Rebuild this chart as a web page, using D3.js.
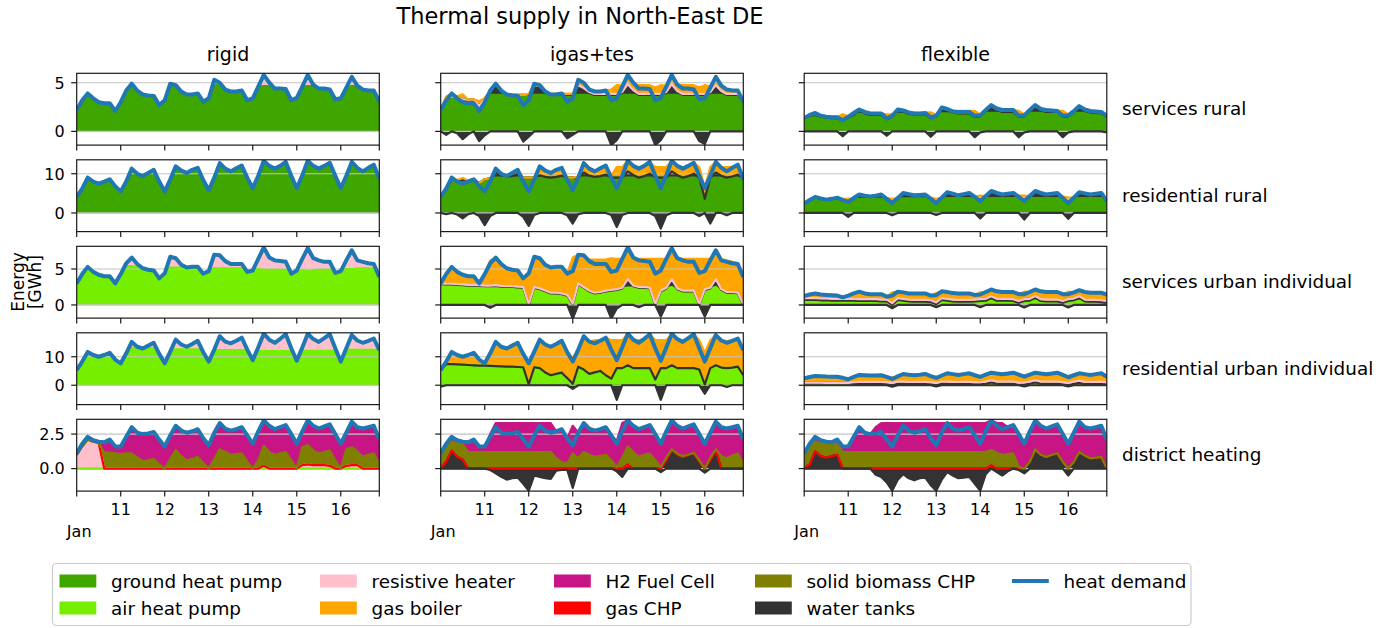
<!DOCTYPE html>
<html>
<head>
<meta charset="utf-8">
<script src="https://cdn.jsdelivr.net/npm/d3@7"></script>
<style>
  body { margin: 0; background: #fff; }
  svg { display: block; font-family: "DejaVu Sans", sans-serif; }
</style>
</head>
<body>
<svg id="chart" width="1391" height="628"></svg>
<script>
// ---------------------------------------------------------------------------
// Thermal supply, 3-hourly, 10 Jan 00:00 .. 16 Jan 21:00 (56 steps), GWh
// ---------------------------------------------------------------------------
const scenarios = ["rigid", "igas+tes", "flexible"];
const sectors = ["services rural", "residential rural", "services urban individual",
                 "residential urban individual", "district heating"];
const dayTicks = [10, 11, 12, 13, 14, 15, 16];

// ---- heat demand ----
const srDemand = [
  2.2,3.2,3.9,3.4,3.0,2.9,2.9,2.1, 3.0,4.2,4.9,4.2,3.8,3.7,3.65,2.7,
  3.2,4.9,4.75,4.1,3.8,3.8,3.9,3.05, 3.4,5.3,5.0,4.3,4.1,4.1,4.2,3.2,
  3.4,4.6,5.8,5.0,4.4,4.4,4.35,3.2, 3.45,4.6,5.8,4.8,4.4,4.4,4.3,3.3,
  3.4,4.5,5.6,4.7,4.3,4.2,4.2,3.05];
const rrDemand = [
  4.1,6.2,9.0,8.0,7.5,8.0,8.6,6.8, 5.5,8.0,11.3,10.0,9.4,10.2,11.0,8.0,
  5.5,8.5,11.9,10.8,10.2,11.0,11.5,8.4, 5.8,9.0,12.7,11.3,10.6,11.4,12.1,9.0,
  6.3,9.5,13.3,12.0,11.3,12.0,13.0,9.5, 6.3,9.6,13.3,12.0,11.3,12.0,12.8,9.5,
  6.3,9.5,13.0,11.5,10.6,11.5,12.3,8.7];
const suDemand = [
  3.0,4.3,5.3,4.6,4.2,4.0,4.0,3.0, 4.3,5.8,6.6,5.7,5.1,4.9,4.8,3.7,
  4.4,6.7,6.5,5.6,5.2,5.3,5.3,4.35, 4.7,7.0,6.9,6.1,5.7,5.7,5.7,4.6,
  4.8,6.4,8.0,6.6,6.2,6.1,6.0,4.35, 4.8,6.4,7.9,6.5,6.2,6.0,6.0,4.45,
  4.7,6.2,7.6,6.2,6.0,5.8,5.7,3.9];
const ruDemand = [
  5.3,8.3,11.7,10.6,10.0,10.6,11.4,9.0, 7.7,11.2,15.2,13.5,12.9,13.9,14.9,11.0,
  7.7,11.8,16.0,14.3,13.5,14.5,15.6,11.6, 8.3,12.5,17.2,15.3,14.7,15.6,16.7,12.5,
  8.8,13.3,18.1,16.0,14.9,16.3,17.9,13.0, 8.6,13.2,18.1,16.2,15.2,16.5,17.9,13.0,
  8.3,13.0,17.6,15.7,14.9,15.6,16.4,12.3];
const dhDemand = [
  1.1,1.8,2.3,2.05,1.95,1.9,2.1,1.6, 1.6,2.3,3.0,2.6,2.5,2.55,2.65,2.1,
  1.6,2.4,3.1,2.75,2.6,2.7,2.85,2.2, 1.7,2.6,3.3,2.9,2.75,2.85,3.0,2.4,
  1.8,2.7,3.5,3.1,2.85,3.0,3.15,2.5, 1.8,2.7,3.5,3.1,2.9,3.05,3.2,2.5,
  1.8,2.6,3.4,3.0,2.9,3.0,3.1,2.1];
const srFlexDemand = [
  1.35,1.7,1.9,1.6,1.5,1.45,1.45,1.15, 1.5,1.9,2.25,2.0,1.85,1.85,1.85,1.35,
  1.6,2.25,2.15,1.95,1.85,1.85,1.9,1.45, 1.6,2.45,2.3,2.05,2.0,2.0,2.0,1.6,
  1.65,2.2,2.7,2.35,2.2,2.2,2.2,1.6, 1.65,2.2,2.7,2.3,2.2,2.15,2.1,1.6,
  1.65,2.1,2.6,2.25,2.1,2.05,2.0,1.6];
const rrFlexDemand = [
  2.4,3.3,4.1,3.7,3.4,3.6,3.9,3.3, 2.8,3.8,4.7,4.4,4.2,4.4,4.7,3.6,
  2.5,3.8,5.1,4.8,4.5,4.6,4.7,3.6, 2.5,3.9,5.3,4.9,4.5,4.8,5.1,4.1,
  3.05,4.3,5.6,5.1,4.7,4.9,5.1,4.1, 3.05,4.3,5.6,5.1,4.7,4.9,5.1,3.8,
  2.5,3.9,5.3,5.0,4.7,4.9,5.1,3.05];
const suFlexDemand = [
  1.25,1.45,1.6,1.45,1.4,1.35,1.3,1.05, 1.3,1.6,1.85,1.6,1.5,1.5,1.5,1.15,
  1.3,1.85,1.75,1.6,1.6,1.6,1.6,1.3, 1.35,1.9,1.8,1.65,1.6,1.6,1.6,1.4,
  1.45,1.8,2.15,1.9,1.8,1.8,1.8,1.5, 1.5,1.8,2.15,1.9,1.8,1.8,1.8,1.5,
  1.5,1.75,2.05,1.8,1.7,1.7,1.7,1.45];
const ruFlexDemand = [
  2.45,2.9,3.25,3.15,3.05,3.0,3.0,2.6, 2.1,2.9,3.6,3.5,3.4,3.45,3.5,2.9,
  2.2,3.1,3.95,3.7,3.5,3.7,3.95,3.2, 2.55,3.4,4.2,3.9,3.6,3.9,4.2,3.5,
  2.9,3.7,4.4,4.1,3.85,4.1,4.4,3.7, 3.0,3.7,4.4,4.1,3.85,4.1,4.4,3.6,
  2.8,3.5,4.2,3.9,3.6,3.9,4.2,3.0];

// ---- rigid ----
const srRigidGround = [
  2.2,3.2,3.9,3.4,3.0,2.9,2.9,2.1, 3.0,4.2,4.9,4.2,3.8,3.7,3.65,2.7,
  3.2,4.85,4.75,4.1,3.8,3.8,3.9,3.05, 3.4,4.8,4.8,4.3,4.1,4.1,4.2,3.2,
  3.4,4.6,4.65,4.65,4.4,4.4,4.35,3.2, 3.45,4.6,4.65,4.65,4.4,4.4,4.3,3.3,
  3.4,4.5,4.65,4.65,4.3,4.2,4.2,3.05];
const srRigidResistive = [
  0,0,0,0,0,0,0,0, 0,0,0,0,0,0,0,0,
  0,0.05,0,0,0,0,0,0, 0,0.5,0.2,0,0,0,0,0,
  0,0,1.15,0.35,0,0,0,0, 0,0,1.15,0.15,0,0,0,0,
  0,0,0.95,0.05,0,0,0,0];
const rrRigidGround = [
  4.1,6.2,9.0,8.0,7.5,8.0,8.6,6.8, 5.5,8.0,11.3,10.0,9.4,10.2,11.0,8.0,
  5.5,8.5,11.9,10.8,10.2,11.0,11.5,8.4, 5.8,9.0,12.7,11.3,10.6,11.4,12.1,9.0,
  6.3,9.5,13.3,12.0,11.3,12.0,13.0,9.5, 6.3,9.6,13.3,12.0,11.3,12.0,12.8,9.5,
  6.3,9.5,13.0,11.5,10.6,11.5,12.3,8.7];
const suRigidAir = [
  3.0,4.3,5.3,4.6,4.2,4.0,4.0,3.0, 4.3,5.4,5.4,5.3,5.1,4.9,4.8,3.7,
  4.4,5.2,5.2,5.2,5.15,5.15,5.15,4.35, 4.7,5.1,5.1,5.1,5.1,5.1,5.1,4.6,
  4.8,5.0,4.9,4.9,4.9,4.9,4.9,4.35, 4.7,4.8,4.7,4.8,4.9,4.9,4.9,4.45,
  4.7,5.0,5.0,5.05,5.1,5.1,5.1,3.9];
const suRigidResistive = [
  0,0,0,0,0,0,0,0, 0,0.4,1.2,0.4,0,0,0,0,
  0,1.5,1.3,0.4,0.05,0.15,0.15,0, 0,1.9,1.8,1.0,0.6,0.6,0.6,0,
  0,1.4,3.1,1.7,1.3,1.2,1.1,0, 0.1,1.6,3.2,1.7,1.3,1.1,1.1,0,
  0,1.2,2.6,1.15,0.9,0.7,0.6,0];
const ruRigidAir = [
  5.3,8.3,11.7,10.6,10.0,10.6,11.4,9.0, 7.7,11.2,13.0,13.0,12.9,13.0,13.0,11.0,
  7.7,11.8,12.6,12.6,12.6,12.6,12.6,11.6, 8.3,12.3,12.3,12.3,12.3,12.3,12.3,12.3,
  8.8,12.0,12.0,12.0,12.0,12.0,12.0,12.0, 8.6,12.1,12.1,12.1,12.1,12.1,12.1,12.1,
  8.3,12.4,12.4,12.4,12.4,12.4,12.4,12.3];
const ruRigidResistive = [
  0,0,0,0,0,0,0,0, 0,0,2.2,0.5,0,0.9,1.9,0,
  0,0,3.4,1.7,0.9,1.9,3.0,0, 0,0.2,4.9,3.0,2.4,3.3,4.4,0.2,
  0,1.3,6.1,4.0,2.9,4.3,5.9,1.0, 0,1.1,6.0,4.1,3.1,4.4,5.8,0.9,
  0,0.6,5.2,3.3,2.5,3.2,4.0,0];
const dhRigidAir = [
  0,0,0,0,0,0,0,0, 0,0,0,0,0,0,0,0, 0,0,0,0,0,0,0,0, 0,0,0,0,0,0,0,0,
  0,0,0,0,0,0,0,0, 0,0,0,0,0,0,0,0, 0,0,0,0,0,0,0,0];
const dhRigidResistive = [
  1.0,1.6,2.1,1.95,1.85,0,0,0, 0,0,0,0,0,0,0,0,
  0,0,0,0,0,0,0,0, 0,0,0,0,0,0,0,0,
  0,0,0.2,0,0,0,0,0, 0,0.25,0.3,0.25,0.25,0.25,0.2,0,
  0,0.2,0.25,0.25,0,0,0,0];
const dhRigidGasChp = [
  0,0,0,0,0,0,0,0, 0,0,0,0,0,0,0,0, 0,0,0,0,0,0,0,0, 0,0,0,0,0,0,0,0,
  0,0,0,0,0,0,0,0, 0,0,0,0,0,0,0,0, 0,0,0,0,0,0,0,0];
const dhRigidBiomass = [
  0,0,0,0,0,1.15,1.15,1.1, 1.05,1.1,1.1,0.8,0.55,0.6,0.7,0.3,
  0,0.7,1.35,0.9,0.6,0.7,0.85,0.4, 0,0.7,1.4,1.2,1.0,1.05,1.1,0.5,
  0,0.6,1.45,1.2,1.0,1.1,1.2,0.6, 0,1.3,1.4,1.05,0.85,0.95,1.1,0.6,
  0,1.2,1.3,1.0,0.85,1.0,1.1,0.35];
const dhRigidFuelCell = [
  0.1,0.2,0.2,0.1,0.1,0.75,0.95,0.5, 0.55,1.2,1.9,1.8,1.95,1.95,1.95,1.8,
  1.6,1.7,1.75,1.85,2.0,2.0,2.0,1.8, 1.7,1.9,1.9,1.7,1.75,1.8,1.9,1.9,
  1.8,2.1,1.85,1.9,1.85,1.9,1.95,1.9, 1.8,1.15,1.8,1.8,1.8,1.85,1.9,1.9,
  1.8,1.2,1.85,1.75,2.05,2.0,2.0,1.75];

// ---- igas+tes ----
const srIgasGround = [
  2.2,3.3,3.6,3.5,3.3,3.25,3.3,2.6, 3.4,3.75,3.75,3.75,3.75,3.75,3.75,3.75,
  3.75,3.75,3.75,3.75,3.75,3.75,3.75,3.75, 3.75,3.75,3.75,3.75,3.75,3.75,3.75,3.75,
  3.75,3.75,3.75,3.75,3.75,3.75,3.75,3.75, 3.75,3.75,3.75,3.75,3.75,3.75,3.75,3.75,
  3.75,3.75,3.75,3.75,3.75,3.75,3.75,3.0];
const srIgasTanks = [
  0,-0.35,0,-0.2,-0.8,-0.3,0,-1.0, -0.4,0.3,1.15,0.45,0.05,0,0,-1.05,
  -0.55,0.9,0.8,0.25,0,0,0,-0.7, -0.35,0.9,0.6,0.2,0,0,0,-1.4,
  -0.9,0.2,1.0,0.4,0,0,0,-1.4, -0.9,0.2,1.0,0.3,0,0,0,-1.0,
  -1.3,0.2,0.9,0.3,0,0,0,0];
const srIgasResistive = [
  0,0,0,0,0,0,0,0, 0,0,0,0,0,0,0,0,
  0.1,0.1,0.1,0.1,0.1,0.1,0.1,0.1, 0.1,0.1,0.1,0.1,0.1,0.1,0.1,0.1,
  0.1,0.1,0.1,0.1,0.1,0.1,0.1,0.1, 0.1,0.1,0.1,0.1,0.1,0.1,0.1,0.1,
  0.1,0.1,0.1,0.1,0.1,0.1,0.1,0.1];
const srIgasBoiler = [
  0,0.3,0.3,0.1,0.5,0,0,0.5, 0,0.15,0,0,0,0,0,0,
  0,0.15,0.1,0,0,0,0.05,0, 0,0.55,0.55,0.25,0.25,0.25,0.35,0.45,
  0.9,0.65,0.95,0.75,0.9,0.9,0.9,0.65, 0.9,0.65,0.95,0.65,0.9,0.9,0.9,0.65,
  0.9,0.55,0.85,0.6,0.45,0.35,0.35,0.05];
const rrIgasGround = [
  4.1,6.2,8.6,8.2,8.4,8.3,8.6,7.6, 8.6,8.8,9.0,9.0,9.0,9.0,9.0,9.0,
  9.0,9.0,9.0,9.0,9.0,9.0,9.0,9.0, 9.0,9.0,9.0,9.0,9.0,9.0,9.0,9.0,
  9.0,9.0,9.0,9.0,9.0,9.0,9.0,9.0, 9.0,9.0,9.0,9.0,9.0,9.0,9.0,9.0,
  3.6,9.0,9.0,9.0,9.0,9.0,9.0,8.7];
const rrIgasTanks = [
  0,-0.3,0,-0.4,-1.4,-0.3,0,-0.8, -3.1,-0.8,1.2,0.6,0.3,0.4,0.9,-1.0,
  -3.3,-0.5,0.6,0.2,0,0.2,0.5,-0.6, -2.7,-0.3,1.3,0.5,0.2,0.4,0.8,-0.5,
  -3.6,-0.5,1.6,0.7,0,0.4,1.0,-0.8, -4.0,-0.6,1.6,0.7,0,0.4,1.0,-0.8,
  0,-2.7,1.3,0.5,-0.6,0.3,0.8,0];
const rrIgasBoiler = [
  0,0.3,0.4,0.2,0.5,0,0,0, 0,0,1.1,0.4,0.1,0.8,1.1,0,
  0,0,2.3,1.6,1.2,1.8,2.0,0, 0,0.3,2.4,1.8,1.4,2.0,2.3,0.5,
  2.7,2.7,2.7,2.3,2.7,2.3,2.9,2.7, 2.7,2.7,2.7,2.3,2.7,2.3,2.8,2.7,
  2.7,2.7,2.7,2.2,2.7,2.4,2.5,0];
const suIgasAir = [
  2.9,2.85,2.85,2.8,2.75,2.7,2.7,2.65, 2.6,2.6,2.65,2.55,2.5,2.5,2.45,2.4,
  0,2.4,2.2,1.9,1.6,1.6,1.5,1.3, 0.1,2.6,2.3,1.9,1.6,1.7,1.9,2.0,
  2.1,2.3,2.4,2.4,2.4,2.4,2.3,0, 1.9,2.3,2.5,2.0,1.9,1.9,1.9,0,
  2.1,2.3,2.5,1.9,1.7,1.7,1.6,0];
const suIgasTanks = [
  0,0,0,0,0,0,0,0, 0,-0.4,0,0,0,0,0,0,
  0,0,0,0,0,0,0,0, -1.9,0.3,0.1,0,0,0,0,-1.9,
  -0.5,0,1.1,0.2,-0.3,0,0,0, -1.6,0,1.0,0.2,0,0,0,0,
  -1.6,0,1.0,0.2,0,0,0,0];
const suIgasResistive = [
  0.1,0.1,0.1,0.1,0.1,0.1,0.1,0.1, 0.1,0.1,0.1,0.1,0.1,0.1,0.1,0.1,
  0.1,0.1,0.1,0.1,0.1,0.1,0.1,0.1, 0.1,0.1,0.1,0.1,0.1,0.1,0.1,0.1,
  0.1,0.1,0.1,0.1,0.1,0.1,0.1,0.1, 0.1,0.1,0.1,0.1,0.1,0.1,0.1,0.1,
  0.1,0.1,0.1,0.1,0.1,0.1,0.1,0.1];
const suIgasBoiler = [
  0,1.35,2.35,1.7,1.35,1.2,1.2,0.25, 1.6,3.5,3.85,3.05,2.5,2.3,2.25,1.2,
  4.3,4.2,4.2,3.6,3.5,3.6,3.7,2.95, 6.4,4.0,4.4,4.3,4.6,4.5,4.3,4.4,
  4.2,4.0,4.4,3.9,3.9,3.9,4.0,6.3, 4.4,4.0,4.3,4.2,4.4,4.4,4.4,6.3,
  4.2,4.0,4.0,4.2,4.4,4.2,4.1,3.8];
const ruIgasAir = [
  5.3,7.4,7.4,7.3,7.2,7.1,7.0,6.9, 6.9,6.8,6.7,6.6,6.5,6.5,6.4,6.3,
  0.3,6.3,6.0,4.5,3.5,4.0,4.4,2.5, 0.5,6.5,5.5,4.0,4.5,5.0,3.5,2.3,
  6.0,6.0,6.0,6.0,6.0,6.0,6.0,2.0, 6.0,6.0,6.0,6.0,6.0,6.0,6.0,5.5,
  0.3,6.0,6.5,6.2,6.0,6.2,6.5,3.5];
const ruIgasTanks = [
  -0.5,0,0,0,0,0,0,0, 0,0,0,0,0,0,0,0,
  0,0,0,0,0,0,0,0, -1.3,0,0,0,0,0,0,0,
  -5.1,0,1.0,0,0,0,0,0, -5.1,0,1.0,0,0,0,0,0,
  -3.0,0,0.5,0,-0.6,0,0,0];
const ruIgasBoiler = [
  0.5,0.9,4.3,3.3,2.8,3.5,4.4,2.1, 0.8,4.4,8.5,6.9,6.4,7.4,8.5,4.7,
  7.4,5.5,10.0,9.8,10.0,10.5,11.2,9.1, 9.1,6.0,11.7,11.3,11.3,10.8,13.2,13.5,
  9.8,9.8,11.1,10.0,9.8,10.3,11.9,13.8, 9.8,9.8,11.1,10.2,9.8,10.5,11.9,10.3,
  11.0,9.8,10.6,9.6,9.5,9.6,9.9,8.8];
const dhIgasTanks = [
  0,0.5,1.3,0.85,0.65,0,0,0, 0,-0.1,-0.35,-0.6,-0.8,-0.7,-0.65,-1.1,
  -1.6,-0.5,-0.6,-0.7,-0.75,-0.15,-0.1,-0.1, -1.4,0,0,0,0,0,0,0,
  -0.2,-0.6,0,0,0,0,0,0, -0.25,0.6,1.35,1.0,0.85,1.0,1.1,0.5,
  -0.3,0.6,1.35,0,0,0,0,0];
const dhIgasGasChp = [
  0,0,0,0,0,0,0,0, 0,0,0,0,0,0,0,0, 0,0,0,0,0,0,0,0, 0,0,0,0,0,0,0,0,
  0,0,0.3,0,0,0,0,0, 0,0,0,0,0,0,0,0, 0,0,0,0,0,0,0,0];
const dhIgasBiomass = [
  1.1,1.2,0.65,1.0,1.1,1.2,1.2,1.2, 1.2,1.2,1.2,1.2,1.2,1.2,1.2,1.2,
  1.2,1.2,1.2,1.2,1.2,0.75,0.45,0.35, 1.1,0.75,1.2,1.0,0.85,0.9,1.0,0.6,
  0.1,0.8,1.3,1.2,0.85,1.0,1.1,0.6, 0.1,0.2,0.05,0.1,0.05,0,0.05,0.1,
  0,0.2,0.05,0.9,0.75,0.95,1.1,0.35];
const dhIgasFuelCell = [
  0,0.1,0.35,0.2,0.2,0.7,0.9,0.4, 0.4,1.3,2.1,2.1,2.1,2.1,2.1,2.1,
  2.1,2.1,2.1,2.1,2.1,1.95,2.4,1.85, 2.0,1.85,2.1,1.9,1.9,1.95,2.0,1.8,
  1.9,2.5,1.9,1.9,2.0,2.0,2.05,1.9, 1.7,1.9,2.1,2.0,2.0,2.05,2.05,1.9,
  1.8,1.8,2.0,2.1,2.15,2.05,2.0,1.75];

// ---- flexible ----
const srFlexGround = [
  1.35,1.6,1.7,1.5,1.4,1.35,1.35,1.15, 1.4,1.7,1.8,1.75,1.7,1.7,1.7,1.25,
  1.5,1.8,1.8,1.8,1.75,1.75,1.75,1.35, 1.5,1.85,1.85,1.85,1.85,1.85,1.85,1.5,
  1.55,1.9,1.9,1.9,1.9,1.9,1.9,1.5, 1.55,1.9,1.9,1.9,1.9,1.9,1.9,1.5,
  1.55,1.9,1.9,1.9,1.9,1.9,1.85,1.5];
const srFlexTanks = [
  0,0,0,0,0,0,0,-0.5, 0,0,0.35,0.1,0,0,0,-0.45,
  0,0.35,0.25,0,0,0,0,-0.55, 0,0.45,0.3,0.1,0,0,0,-0.6,
  -0.1,0.2,0.7,0.3,0.1,0.1,0.1,-0.6, -0.1,0.2,0.7,0.25,0.1,0.1,0.1,-0.6,
  -0.1,0.1,0.6,0.2,0.05,0,0,-0.1];
const srFlexResistive = [
  0,0.1,0.1,0.1,0.1,0.1,0.1,0.1, 0.1,0.1,0.1,0.1,0.1,0.1,0.1,0.1,
  0.1,0.1,0.1,0.1,0.1,0.1,0.1,0.1, 0.1,0.1,0.1,0.1,0.1,0.1,0.1,0.1,
  0.1,0.1,0.1,0.1,0.1,0.1,0.1,0.1, 0.1,0.1,0.1,0.1,0.1,0.1,0.1,0.1,
  0.1,0.1,0.1,0.1,0.1,0.1,0.1,0.1];
const srFlexBoiler = [
  0,0,0.1,0.05,0.05,0.05,0.05,0.5, 0.05,0.1,0,0.05,0.05,0.05,0.05,0.4,
  0.15,0,0,0.05,0.05,0.05,0.05,0.5, 0.1,0.1,0.05,0.05,0.15,0.15,0.15,0.5,
  0.1,0,0,0.05,0.1,0.1,0.1,0.5, 0.1,0,0,0.05,0.1,0.05,0,0.5,
  0.1,0,0,0.05,0.05,0.05,0.05,0.1];
const rrFlexGround = [
  2.4,3.2,3.6,3.5,3.3,3.4,3.6,3.2, 3.2,3.6,3.6,3.6,3.6,3.6,3.6,3.5,
  3.3,3.7,3.7,3.7,3.7,3.7,3.7,3.5, 3.3,3.7,3.8,3.8,3.8,3.8,3.8,3.7,
  3.8,3.8,3.8,3.8,3.8,3.8,3.8,3.8, 3.8,3.8,3.8,3.8,3.8,3.8,3.8,3.8,
  3.5,3.8,3.8,3.8,3.8,3.8,3.8,3.05];
const rrFlexTanks = [
  0,0,0.4,0.1,0,0.1,0.2,0, -1.0,0.1,1.0,0.7,0.5,0.7,1.0,0,
  -0.6,0,1.3,1.0,0.7,0.8,0.9,0, -0.5,0.1,1.4,1.0,0.6,0.9,1.2,0.3,
  -1.4,0.4,1.7,1.2,0.8,1.0,1.2,0.2, -1.7,0.4,1.7,1.2,0.8,1.0,1.2,0,
  -1.5,0,1.4,1.1,0.8,1.0,1.2,0];
const rrFlexResistive = [
  0,0.1,0.1,0.1,0.1,0.1,0.1,0.1, 0.1,0.1,0.1,0.1,0.1,0.1,0.1,0.1,
  0.1,0.1,0.1,0.1,0.1,0.1,0.1,0.1, 0.1,0.1,0.1,0.1,0.1,0.1,0.1,0.1,
  0.1,0.1,0.1,0.1,0.1,0.1,0.1,0.1, 0.1,0.1,0.1,0.1,0.1,0.1,0.1,0.1,
  0.1,0.1,0.1,0.1,0.1,0.1,0.1,0.1];
const rrFlexBoiler = [
  0,0,0,0,0,0,0,0.3, 0.3,0,0,0,0,0,0,0.2,
  0.2,0,0,0,0,0,0,0.3, 0.2,0,0,0,0,0,0,0.1,
  0.5,0,0,0,0,0,0,0.3, 0.5,0,0,0,0,0,0,0.3,
  0.3,0,0,0,0,0,0,0];
const suFlexAir = [
  0.7,0.7,0.7,0.65,0.65,0.6,0.6,0.6, 0.6,0.6,0.55,0.55,0.55,0.55,0.5,0.5,
  0,0.7,0.6,0.5,0.45,0.45,0.45,0.4, 0.1,0.7,0.6,0.5,0.45,0.45,0.45,0.5,
  0.55,0.6,0.6,0.6,0.6,0.6,0.55,0.3, 0.55,0.6,0.65,0.55,0.5,0.5,0.5,0.3,
  0.55,0.65,0.65,0.5,0.45,0.45,0.4,0.3];
const suFlexTanks = [
  0,0,0,0,0,0,0,0, 0,0,0,0,0,0,0,0,
  -0.45,0,0,0,0,0,0,0, -0.3,0,0,0,0,0,0,0,
  -0.3,0,0.35,0,0,0,0,0, -0.35,0,0.35,0,0,0,0,0,
  -0.35,0,0.3,0,0,0,0,0];
const suFlexResistive = [
  0.25,0.25,0.25,0.25,0.25,0.25,0.25,0.25, 0.25,0.25,0.25,0.25,0.25,0.25,0.25,0.25,
  0.25,0.25,0.25,0.25,0.25,0.25,0.25,0.25, 0.25,0.25,0.25,0.25,0.25,0.25,0.25,0.25,
  0.25,0.25,0.25,0.25,0.25,0.25,0.25,0.25, 0.25,0.25,0.25,0.25,0.25,0.25,0.25,0.25,
  0.25,0.25,0.25,0.25,0.25,0.25,0.25,0.25];
const suFlexBoiler = [
  0.3,0.5,0.65,0.55,0.5,0.5,0.45,0.2, 0.45,0.75,1.05,0.8,0.7,0.7,0.75,0.4,
  1.5,0.9,0.9,0.85,0.9,0.9,0.9,0.65, 1.3,0.95,0.95,0.9,0.9,0.9,0.9,0.65,
  0.95,0.95,0.95,1.05,0.95,0.95,1.0,0.95, 1.05,0.95,0.9,1.1,1.05,1.05,1.05,0.95,
  1.05,0.85,0.85,1.05,1.0,1.0,1.05,0.9];
const ruFlexAir = [
  0.9,0.9,0.9,0.9,0.85,0.85,0.85,0.85, 0.85,0.5,0.4,0.4,0.4,0.4,0.4,0.3,
  0,0.5,0.5,0.4,0.4,0.4,0.4,0.3, 0,0.5,0.5,0.4,0.4,0.4,0.4,0.3,
  0.3,0.5,0.6,0.5,0.5,0.5,0.5,0.1, 0.2,0.5,0.6,0.5,0.5,0.5,0.5,0.3,
  0,0.5,0.5,0.4,0.4,0.4,0.4,0.3];
const ruFlexTanks = [
  0,0,0,0,0,0,0,0, 0,0,0,0,0,0,0,0,
  -0.5,0,0,0,0,0,0,0, -0.4,0,0,0,0,0,0,0,
  0,0,0.4,0,0,0,0,0, -0.4,0,0.4,0,0,0,0,0,
  -0.4,0,0.3,0,0,0,0,0];
const ruFlexResistive = [
  0,0,0,0,0,0,0,0, 0,0.6,0.8,0.8,0.8,0.8,0.8,0.8,
  0.8,0.8,0.8,0.8,0.8,0.8,0.8,0.8, 0.8,0.8,0.8,0.8,0.8,0.8,0.8,0.8,
  0.8,0.8,0.8,0.8,0.8,0.8,0.8,0.8, 0.8,0.8,0.8,0.8,0.8,0.8,0.8,0.8,
  0.8,0.8,0.8,0.8,0.8,0.8,0.8,0.8];
const ruFlexBoiler = [
  1.55,2.0,2.35,2.25,2.2,2.15,2.15,1.75, 1.25,1.8,2.4,2.3,2.2,2.25,2.3,1.8,
  1.9,1.8,2.65,2.5,2.3,2.5,2.75,2.1, 2.15,2.1,2.9,2.7,2.4,2.7,3.0,2.4,
  1.8,2.4,2.6,2.8,2.55,2.8,3.1,2.8, 2.4,2.4,2.6,2.8,2.55,2.8,3.1,2.5,
  2.4,2.2,2.6,2.7,2.4,2.7,3.0,1.9];
const dhFlexTanks = [
  0,0.3,1.25,0.9,0.8,0.9,1.0,0, 0,0,0,0,0,-0.45,-0.6,-1.0,
  -1.6,-0.8,-0.4,-0.7,-0.85,-0.7,-0.65,-1.2, -1.6,-0.8,-0.25,-0.5,-0.7,-0.65,-0.6,-1.1,
  -1.6,-0.4,0,-0.25,-0.5,-0.2,0,-0.1, -0.35,0.5,1.35,1.0,0.85,1.0,1.1,0.5,
  -0.5,0.5,1.2,0.95,0.75,0.8,0.85,0];
const dhFlexGasChp = [
  0,0,0,0,0,0,0,0, 0,0,0,0,0,0,0,0, 0,0,0,0,0,0,0,0, 0,0,0,0,0,0,0,0,
  0,0,0.25,0,0,0,0,0, 0,0,0,0,0,0,0,0, 0,0,0,0,0,0,0,0];
const dhFlexBiomass = [
  1.1,1.2,0.7,0.95,0.95,0.9,0.8,1.2, 1.2,1.2,1.2,1.2,1.2,1.2,1.2,1.2,
  1.2,1.2,1.2,1.2,1.2,1.2,1.2,1.2, 1.2,1.2,1.2,1.2,1.2,1.2,1.2,1.2,
  1.2,1.2,1.1,1.15,1.0,1.05,1.1,0.1, 0,0,0.05,0,0,0,0,0,
  0,0,0,0,0,0,0,0];
const dhFlexFuelCell = [
  0,0.3,0.35,0.2,0.2,0.1,0.3,0.4, 0.4,1.1,1.8,1.4,1.3,1.8,2.1,2.1,
  2.1,2.1,2.1,2.1,2.1,2.1,2.1,2.1, 2.1,2.1,2.1,2.1,2.1,2.1,2.1,2.1,
  2.1,2.1,2.15,2.15,2.3,1.95,2.05,2.4, 1.8,2.2,2.1,2.1,2.05,2.05,2.1,2.0,
  1.8,2.1,2.2,2.05,2.15,2.2,2.25,2.1];

// ---------------------------------------------------------------------------
const techColors = {
  "ground heat pump": "#3fa600",
  "air heat pump": "#76ee00",
  "water tanks": "#333333",
  "resistive heater": "#ffc0cb",
  "gas boiler": "#ffa500",
  "gas CHP": "#ff0000",
  "solid biomass CHP": "#808000",
  "H2 Fuel Cell": "#c71585",
  "heat demand": "#1f77b4"
};
// bottom-to-top order of the stacked areas
const stackOrder = ["ground heat pump", "air heat pump", "water tanks", "resistive heater",
                    "gas boiler", "gas CHP", "solid biomass CHP", "H2 Fuel Cell"];

const panels = [
  { row: 0, col: 0, demand: srDemand, supply: { "ground heat pump": srRigidGround, "resistive heater": srRigidResistive } },
  { row: 1, col: 0, demand: rrDemand, supply: { "ground heat pump": rrRigidGround } },
  { row: 2, col: 0, demand: suDemand, supply: { "air heat pump": suRigidAir, "resistive heater": suRigidResistive } },
  { row: 3, col: 0, demand: ruDemand, supply: { "air heat pump": ruRigidAir, "resistive heater": ruRigidResistive } },
  { row: 4, col: 0, demand: dhDemand, supply: { "air heat pump": dhRigidAir, "resistive heater": dhRigidResistive,
      "gas CHP": dhRigidGasChp, "solid biomass CHP": dhRigidBiomass, "H2 Fuel Cell": dhRigidFuelCell } },

  { row: 0, col: 1, demand: srDemand, supply: { "ground heat pump": srIgasGround, "water tanks": srIgasTanks,
      "resistive heater": srIgasResistive, "gas boiler": srIgasBoiler } },
  { row: 1, col: 1, demand: rrDemand, supply: { "ground heat pump": rrIgasGround, "water tanks": rrIgasTanks,
      "gas boiler": rrIgasBoiler } },
  { row: 2, col: 1, demand: suDemand, supply: { "air heat pump": suIgasAir, "water tanks": suIgasTanks,
      "resistive heater": suIgasResistive, "gas boiler": suIgasBoiler } },
  { row: 3, col: 1, demand: ruDemand, supply: { "air heat pump": ruIgasAir, "water tanks": ruIgasTanks,
      "gas boiler": ruIgasBoiler } },
  { row: 4, col: 1, demand: dhDemand, supply: { "water tanks": dhIgasTanks, "gas CHP": dhIgasGasChp,
      "solid biomass CHP": dhIgasBiomass, "H2 Fuel Cell": dhIgasFuelCell } },

  { row: 0, col: 2, demand: srFlexDemand, supply: { "ground heat pump": srFlexGround, "water tanks": srFlexTanks,
      "resistive heater": srFlexResistive, "gas boiler": srFlexBoiler } },
  { row: 1, col: 2, demand: rrFlexDemand, supply: { "ground heat pump": rrFlexGround, "water tanks": rrFlexTanks,
      "resistive heater": rrFlexResistive, "gas boiler": rrFlexBoiler } },
  { row: 2, col: 2, demand: suFlexDemand, supply: { "air heat pump": suFlexAir, "water tanks": suFlexTanks,
      "resistive heater": suFlexResistive, "gas boiler": suFlexBoiler } },
  { row: 3, col: 2, demand: ruFlexDemand, supply: { "air heat pump": ruFlexAir, "water tanks": ruFlexTanks,
      "resistive heater": ruFlexResistive, "gas boiler": ruFlexBoiler } },
  { row: 4, col: 2, demand: dhDemand, supply: { "water tanks": dhFlexTanks, "gas CHP": dhFlexGasChp,
      "solid biomass CHP": dhFlexBiomass, "H2 Fuel Cell": dhFlexFuelCell } }
];

// ---------------------------------------------------------------------------
// layout
const N = srDemand.length;
const t0 = new Date(2013, 0, 10, 0);
const times = d3.range(N).map(i => d3.timeHour.offset(t0, 3 * i));
const colLeft = [76.7, 440.7, 804.2];
const panelW = 302.6;
const rowTop = [73.3, 159.8, 246.3, 332.8, 419.3];
const panelH = 71.8;
const rowDomains = [[-1.41, 5.97], [-4.75, 13.55], [-1.83, 8.16], [-6.8, 18.4], [-1.63, 3.57]];
const rowTicks = [[0, 5], [0, 10], [0, 5], [0, 10], [0, 2.5]];
const rowTickFormat = [d3.format("d"), d3.format("d"), d3.format("d"), d3.format("d"), d3.format(".1f")];

const svg = d3.select("#chart");
const defs = svg.append("defs");
const ink = "#000";

svg.append("text").attr("x", 580).attr("y", 24).attr("text-anchor", "middle")
  .attr("font-size", 22.5).attr("fill", ink).text("Thermal supply in North-East DE");

scenarios.forEach((s, c) => {
  svg.append("text").attr("x", colLeft[c] + panelW / 2).attr("y", 61).attr("text-anchor", "middle")
    .attr("font-size", 19).attr("fill", ink).text(s);
});
sectors.forEach((s, r) => {
  svg.append("text").attr("x", 1122).attr("y", rowTop[r] + panelH / 2 + 6)
    .attr("font-size", 18.4).attr("fill", ink).text(s);
});

const yl = svg.append("text").attr("transform", "translate(0,282) rotate(-90)")
  .attr("text-anchor", "middle").attr("font-size", 17).attr("fill", ink);
yl.append("tspan").attr("x", 0).attr("y", 24).text("Energy");
yl.append("tspan").attr("x", 0).attr("y", 41).text("[GWh]");

panels.forEach(p => {
  const left = colLeft[p.col], top = rowTop[p.row];
  const x = d3.scaleTime().domain([times[0], times[N - 1]]).range([left, left + panelW]);
  const y = d3.scaleLinear().domain(rowDomains[p.row]).range([top + panelH, top]);
  const clipId = `clip-${p.row}-${p.col}`;
  defs.append("clipPath").attr("id", clipId).append("rect")
    .attr("x", left).attr("y", top).attr("width", panelW).attr("height", panelH);
  const g = svg.append("g").attr("clip-path", `url(#${clipId})`);

  // stack positive contributions, then storage charging below zero
  const layers = [];
  let base = new Array(N).fill(0);
  stackOrder.forEach(name => {
    const v = p.supply[name];
    if (!v) return;
    const upper = base.map((b, i) => b + Math.max(v[i], 0));
    layers.push({ name, lower: base, upper });
    base = upper;
  });
  const tanks = p.supply["water tanks"];
  if (tanks && tanks.some(v => v < 0)) {
    layers.push({ name: "water tanks", lower: new Array(N).fill(0), upper: tanks.map(v => Math.min(v, 0)) });
  }

  const area = d3.area().x((d, i) => x(times[i])).y0(d => y(d[0])).y1(d => y(d[1]));
  const line = d3.line().x((d, i) => x(times[i])).y(d => y(d));

  layers.forEach(l => {
    g.append("path").datum(l.lower.map((v, i) => [v, l.upper[i]]))
      .attr("d", area).attr("fill", techColors[l.name])
      .attr("stroke", techColors[l.name]).attr("stroke-width", 0.8);
  });

  rowTicks[p.row].forEach(t => {
    g.append("line").attr("x1", left).attr("x2", left + panelW)
      .attr("y1", y(t)).attr("y2", y(t)).attr("stroke", "#c4c4c4").attr("stroke-width", 1.2);
  });

  layers.forEach(l => {
    g.append("path").datum(l.upper).attr("d", line).attr("fill", "none")
      .attr("stroke", techColors[l.name]).attr("stroke-width", 2.2).attr("stroke-linejoin", "round");
  });

  g.append("path").datum(p.demand).attr("d", line).attr("fill", "none")
    .attr("stroke", techColors["heat demand"]).attr("stroke-width", 4).attr("stroke-linejoin", "round");

  // frame and ticks
  svg.append("rect").attr("x", left).attr("y", top).attr("width", panelW).attr("height", panelH)
    .attr("fill", "none").attr("stroke", "#1a1a1a").attr("stroke-width", 1.2);
  rowTicks[p.row].forEach(t => {
    svg.append("line").attr("x1", left - 5.5).attr("x2", left).attr("y1", y(t)).attr("y2", y(t))
      .attr("stroke", "#1a1a1a").attr("stroke-width", 1.2);
    if (p.col === 0) {
      svg.append("text").attr("x", left - 12).attr("y", y(t) + 5.8).attr("text-anchor", "end")
        .attr("font-size", 16).attr("fill", ink).text(rowTickFormat[p.row](t));
    }
  });
  const tickDates = dayTicks.map(d => new Date(2013, 0, d)).concat([times[N - 1]]);
  tickDates.forEach(d => {
    const xx = x(d);
    svg.append("line").attr("x1", xx).attr("x2", xx).attr("y1", top + panelH).attr("y2", top + panelH + 5.5)
      .attr("stroke", "#1a1a1a").attr("stroke-width", 1.2);
  });
  if (p.row === 4) {
    dayTicks.slice(1).forEach(d => {
      svg.append("text").attr("x", x(new Date(2013, 0, d))).attr("y", 515).attr("text-anchor", "middle")
        .attr("font-size", 16).attr("fill", ink).text(d);
    });
    svg.append("text").attr("x", left + 2.5).attr("y", 537).attr("text-anchor", "middle")
      .attr("font-size", 16).attr("fill", ink).text("Jan");
  }
});

// ---------------------------------------------------------------------------
// legend
const legendEntries = [
  ["ground heat pump", 0, 0], ["air heat pump", 0, 1],
  ["resistive heater", 1, 0], ["gas boiler", 1, 1],
  ["H2 Fuel Cell", 2, 0], ["gas CHP", 2, 1],
  ["solid biomass CHP", 3, 0], ["water tanks", 3, 1],
  ["heat demand", 4, 0]
];
const legendX = [59.5, 320, 554, 755, 1012];
const legendRowY = [581, 608];
svg.append("rect").attr("x", 52.5).attr("y", 563.5).attr("width", 1138.5).attr("height", 62)
  .attr("rx", 4).attr("fill", "#fff").attr("stroke", "#cccccc").attr("stroke-width", 1.2);
legendEntries.forEach(([name, c, r]) => {
  const lx = legendX[c], ly = legendRowY[r];
  if (name === "heat demand") {
    svg.append("line").attr("x1", lx).attr("x2", lx + 36.8).attr("y1", ly).attr("y2", ly)
      .attr("stroke", techColors[name]).attr("stroke-width", 4);
  } else {
    svg.append("rect").attr("x", lx).attr("y", ly - 6.5).attr("width", 36.8).attr("height", 13)
      .attr("fill", techColors[name]);
  }
  svg.append("text").attr("x", lx + 51.5).attr("y", ly + 6.5).attr("font-size", 18.4)
    .attr("fill", ink).text(name);
});
</script>
</body>
</html>
